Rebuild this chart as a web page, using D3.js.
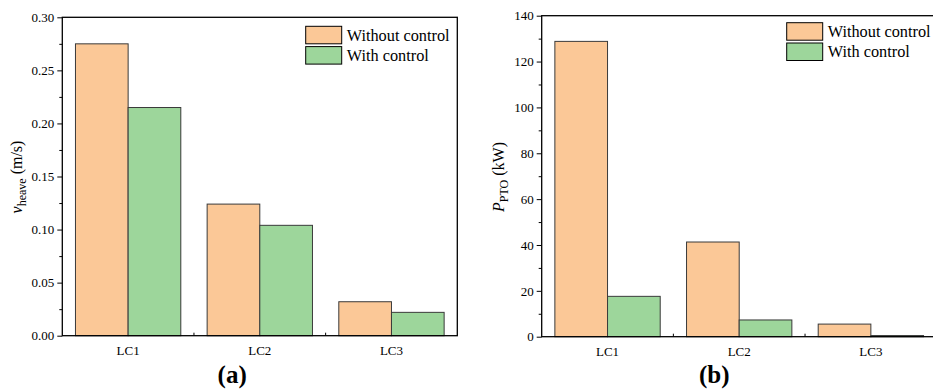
<!DOCTYPE html>
<html>
<head>
<meta charset="utf-8">
<script src="https://cdn.jsdelivr.net/npm/d3@7"></script>
<style>
  html, body { margin: 0; padding: 0; background: #fff; }
  svg { display: block; }
  svg text { font-family: "Liberation Serif", "Times New Roman", serif !important; fill: #000; }
</style>
</head>
<body>
<svg id="chart" width="933" height="389"></svg>
<script>
// Load cases and series
const categories = ["LC1", "LC2", "LC3"];
const seriesNames = ["Without control", "With control"];
const seriesColors = ["#FBC897", "#9DD69B"];

// Panel (a): heave velocity (m/s)
const heaveWithout = [0.275, 0.124, 0.032];
const heaveWith = [0.215, 0.104, 0.022];
const heaveTicks = [0, 0.05, 0.10, 0.15, 0.20, 0.25, 0.30];

// Panel (b): PTO power (kW)
const powerWithout = [128.8, 41.3, 5.5];
const powerWith = [17.6, 7.3, 0.5];
const powerTicks = [0, 20, 40, 60, 80, 100, 120, 140];

const SERIF = "'Liberation Serif', 'Times New Roman', serif";
const svg = d3.select("#chart").attr("font-family", SERIF);

function drawPanel(opt) {
  const { left, top, width, height, yMax, ticks, minorStep, fmt, values, legendX, legendY, tag } = opt;
  const g = svg.append("g").attr("transform", `translate(${left},${top})`);

  const x = d3.scaleBand().domain(categories).range([0, width]).paddingInner(0.2).paddingOuter(0.1);
  const xs = d3.scaleBand().domain(d3.range(seriesNames.length)).range([0, x.bandwidth()]);
  const y = d3.scaleLinear().domain([0, yMax]).range([height, 0]);

  // bars
  categories.forEach((c, i) => {
    values.forEach((arr, s) => {
      g.append("rect")
        .attr("x", x(c) + xs(s))
        .attr("y", y(arr[i]))
        .attr("width", xs.bandwidth())
        .attr("height", height - y(arr[i]))
        .attr("fill", seriesColors[s])
        .attr("stroke", "#3a3a3a")
        .attr("stroke-width", 1);
    });
  });

  // minor y ticks
  const minor = d3.range(0, yMax + 1e-9, minorStep).filter(v => !ticks.some(t => Math.abs(t - v) < 1e-9));
  g.append("g")
    .call(d3.axisLeft(y).tickValues(minor).tickSize(3).tickFormat(""))
    .call(a => a.select(".domain").remove())
    .selectAll("line").attr("stroke", "#000");

  // major y ticks
  const ya = g.append("g")
    .call(d3.axisLeft(y).tickValues(ticks).tickSize(5).tickSizeOuter(0).tickPadding(3).tickFormat(fmt));
  ya.attr("font-family", SERIF);
  ya.select(".domain").remove();
  ya.selectAll("line").attr("stroke", "#000");
  ya.selectAll("text").attr("font-size", 13);

  // x axis labels and boundary ticks
  const xa = g.append("g").attr("transform", `translate(0,${height})`)
    .call(d3.axisBottom(x).tickSize(0).tickPadding(10));
  xa.attr("font-family", SERIF);
  xa.select(".domain").remove();
  xa.selectAll("text").attr("font-size", 13);
  const bounds = categories.slice(1).map(c => x(c) - x.step() * x.paddingInner() / 2);
  g.selectAll(".xb").data(bounds).enter().append("line")
    .attr("x1", d => d).attr("x2", d => d)
    .attr("y1", height).attr("y2", height - 3)
    .attr("stroke", "#000");

  // frame
  g.append("rect").attr("x", 0).attr("y", 0).attr("width", width).attr("height", height)
    .attr("fill", "none").attr("stroke", "#000").attr("stroke-width", 1.3);

  // legend
  const lg = g.append("g").attr("transform", `translate(${legendX},${legendY})`);
  seriesNames.forEach((n, s) => {
    lg.append("rect").attr("x", 0).attr("y", s * 20.3).attr("width", 36).attr("height", 17.5)
      .attr("fill", seriesColors[s]).attr("stroke", "#000").attr("stroke-width", 1);
    lg.append("text").attr("x", 41).attr("y", s * 20.3 + 14.5)
      .attr("font-family", SERIF).attr("font-size", 16.3).text(n);
  });

  // panel tag
  svg.append("text").attr("x", left + width * tag.rel).attr("y", 383)
    .attr("text-anchor", "middle").attr("font-size", 25).attr("font-weight", "bold").text(tag.text);

  return g;
}

// Panel (a)
drawPanel({
  left: 62.3, top: 17.3, width: 395, height: 318.4, yMax: 0.30,
  ticks: heaveTicks, minorStep: 0.025, fmt: d3.format(".2f"),
  values: [heaveWithout, heaveWith], legendX: 243.4, legendY: 9, tag: { text: "(a)", rel: 0.43 }
});
svg.append("text")
  .attr("transform", "translate(22,177) rotate(-90)")
  .attr("text-anchor", "middle").attr("font-size", 16)
  .call(t => {
    t.append("tspan").attr("font-style", "italic").text("v");
    t.append("tspan").attr("font-size", 12).attr("dy", 4).text("heave");
    t.append("tspan").attr("dy", -4).text(" (m/s)");
  });

// Panel (b)
drawPanel({
  left: 541.7, top: 15.7, width: 395, height: 321, yMax: 140,
  ticks: powerTicks, minorStep: 10, fmt: d3.format("d"),
  values: [powerWithout, powerWith], legendX: 245, legendY: 7, tag: { text: "(b)", rel: 0.437 }
});
svg.append("text")
  .attr("transform", "translate(504,177) rotate(-90)")
  .attr("text-anchor", "middle").attr("font-size", 16)
  .call(t => {
    t.append("tspan").attr("font-style", "italic").text("P");
    t.append("tspan").attr("font-size", 12).attr("dy", 4).text("PTO");
    t.append("tspan").attr("dy", -4).text(" (kW)");
  });
</script>
</body>
</html>
